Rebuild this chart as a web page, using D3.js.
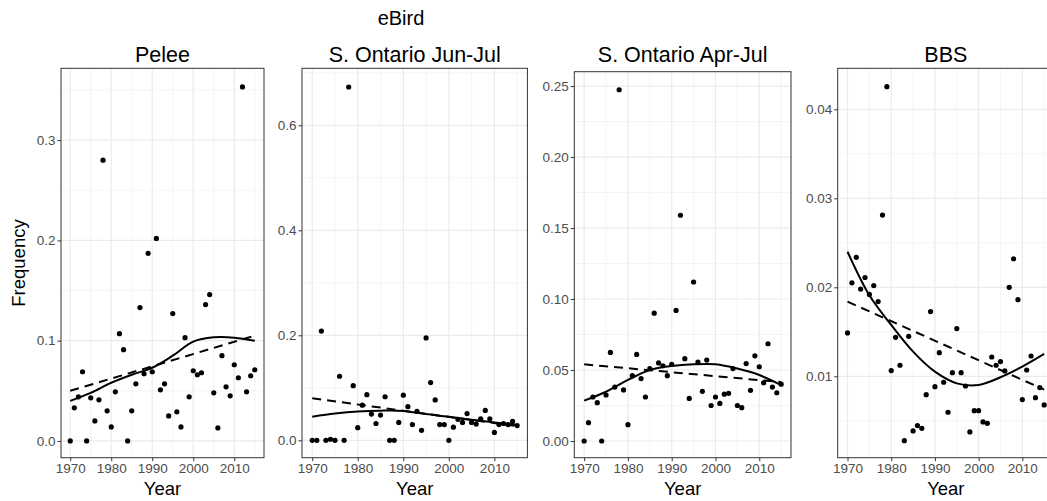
<!DOCTYPE html>
<html>
<head>
<meta charset="utf-8">
<script src="https://cdn.jsdelivr.net/npm/d3@7"></script>
<style>
  body { margin: 0; background: #fff; }
  text { font-family: "Liberation Sans", Arial, Helvetica, sans-serif; }
</style>
</head>
<body>
<script>
const width = 1047;
const height = 501;

// years shared by every panel
const years = [1970, 1971, 1972, 1973, 1974, 1975, 1976, 1977, 1978, 1979,
  1980, 1981, 1982, 1983, 1984, 1985, 1986, 1987, 1988, 1989,
  1990, 1991, 1992, 1993, 1994, 1995, 1996, 1997, 1998, 1999,
  2000, 2001, 2002, 2003, 2004, 2005, 2006, 2007, 2008, 2009,
  2010, 2011, 2012, 2013, 2014, 2015];

const pelee = [0.000, 0.033, 0.044, 0.069, 0.000, 0.043, 0.020, 0.041, 0.280, 0.030,
  0.014, 0.049, 0.107, 0.091, 0.000, 0.030, 0.057, 0.133, 0.067, 0.187,
  0.069, 0.202, 0.051, 0.057, 0.025, 0.127, 0.029, 0.014, 0.103, 0.044,
  0.070, 0.066, 0.068, 0.136, 0.146, 0.048, 0.013, 0.085, 0.054, 0.045,
  0.076, 0.063, 0.353, 0.049, 0.065, 0.071];

const ontJunJul = [0.000, 0.000, 0.208, 0.000, 0.002, 0.000, 0.122, 0.000, 0.673, 0.104,
  0.024, 0.067, 0.087, 0.050, 0.032, 0.048, 0.083, 0.000, 0.000, 0.034,
  0.086, 0.064, 0.030, 0.055, 0.019, 0.195, 0.110, 0.077, 0.030, 0.030,
  0.000, 0.025, 0.040, 0.034, 0.051, 0.034, 0.031, 0.041, 0.057, 0.041,
  0.015, 0.030, 0.032, 0.030, 0.036, 0.028];

const ontAprJul = [0.000, 0.0129, 0.031, 0.027, 0.000, 0.0324, 0.0624, 0.038, 0.2474, 0.036,
  0.0115, 0.046, 0.061, 0.044, 0.031, 0.051, 0.090, 0.055, 0.053, 0.046,
  0.054, 0.092, 0.159, 0.058, 0.030, 0.112, 0.0556, 0.035, 0.057, 0.025,
  0.031, 0.0265, 0.033, 0.0336, 0.051, 0.025, 0.0235, 0.0545, 0.0357, 0.060,
  0.0523, 0.041, 0.0685, 0.038, 0.034, 0.040];

const bbs = [0.01487, 0.0205, 0.02337, 0.0198, 0.0211, 0.0192, 0.0202, 0.0184, 0.02812, 0.04254,
  0.01064, 0.01438, 0.01124, 0.00277, 0.01449, 0.00386, 0.00446, 0.00416, 0.00794, 0.01727,
  0.00884, 0.01266, 0.00933, 0.00596, 0.01041, 0.01536, 0.01041, 0.00891, 0.00375, 0.00614,
  0.00614, 0.00487, 0.00472, 0.01217, 0.01124, 0.01165, 0.0106, 0.0200, 0.02321, 0.01861,
  0.00738, 0.01071, 0.01228, 0.0076, 0.00873, 0.00678];

// smooth (solid) curves
const smoothYears = [1970, 1975, 1980, 1985, 1990, 1995, 2000, 2005, 2010, 2015];
const peleeSmooth = [0.040, 0.048, 0.058, 0.066, 0.073, 0.085, 0.099, 0.1033, 0.103, 0.100];
const ontJunJulSmooth = [0.045, 0.051, 0.055, 0.0565, 0.056, 0.050, 0.045, 0.039, 0.034, 0.029];
const ontAprJulSmooth = [0.0284, 0.0347, 0.043, 0.050, 0.0528, 0.054, 0.054, 0.051, 0.0465, 0.0394];
const bbsSmooth = [0.0240, 0.0191, 0.01577, 0.01277, 0.01052, 0.00921, 0.00903, 0.00989, 0.01109, 0.01251];

// linear (dashed) fits, endpoints
const linearYears = [1970, 2015];
const peleeLinear = [0.050, 0.105];
const ontJunJulLinear = [0.080, 0.027];
const ontAprJulLinear = [0.054, 0.0415];
const bbsLinear = [0.01839, 0.00851];

// tick values
const xTicks = [1970, 1980, 1990, 2000, 2010];
const xMinor = [1975, 1985, 1995, 2005, 2015];
const peleeTicks = [0.0, 0.1, 0.2, 0.3];
const ontJunJulTicks = [0.0, 0.2, 0.4, 0.6];
const ontAprJulTicks = [0.00, 0.05, 0.10, 0.15, 0.20, 0.25];
const bbsTicks = [0.01, 0.02, 0.03, 0.04];

const panels = [
  { title: "Pelee", values: pelee, smooth: peleeSmooth, linear: peleeLinear,
    ticks: peleeTicks, fmt: ".1f", x0: 61, x1: 264, top: 68.3, yDomain: [-0.0167, 0.3716] },
  { title: "S. Ontario Jun-Jul", values: ontJunJul, smooth: ontJunJulSmooth, linear: ontJunJulLinear,
    ticks: ontJunJulTicks, fmt: ".1f", x0: 302, x1: 527.4, top: 68.3, yDomain: [-0.0331, 0.7086] },
  { title: "S. Ontario Apr-Jul", values: ontAprJul, smooth: ontAprJulSmooth, linear: ontAprJulLinear,
    ticks: ontAprJulTicks, fmt: ".2f", x0: 574.3, x1: 791, top: 71.7, yDomain: [-0.01176, 0.2601] },
  { title: "BBS", values: bbs, smooth: bbsSmooth, linear: bbsLinear,
    ticks: bbsTicks, fmt: ".2f", x0: 837.7, x1: 1054, top: 68.3, yDomain: [0.000854, 0.04461] }
];
const bottom = 457.7;

const svg = d3.select("body").append("svg")
  .attr("width", width)
  .attr("height", height);

svg.append("text")
  .attr("x", 401).attr("y", 25)
  .attr("text-anchor", "middle")
  .style("font-size", "20px")
  .attr("fill", "#000")
  .text("eBird");

svg.append("text")
  .attr("transform", "translate(25,263) rotate(-90)")
  .attr("text-anchor", "middle")
  .style("font-size", "18.5px")
  .text("Frequency");

panels.forEach(p => {
  const x = d3.scaleLinear().domain([1967.75, 2017.25]).range([p.x0, p.x1]);
  const y = d3.scaleLinear().domain(p.yDomain).range([bottom, p.top]);
  const g = svg.append("g");

  // minor y grid: halfway between majors
  const step = p.ticks[1] - p.ticks[0];
  const yMinor = [p.ticks[0] - step / 2].concat(p.ticks.map(t => t + step / 2))
    .filter(v => v > p.yDomain[0] && v < p.yDomain[1]);

  g.selectAll(".minx").data(xMinor).join("line")
    .attr("x1", d => x(d)).attr("x2", d => x(d))
    .attr("y1", p.top).attr("y2", bottom)
    .attr("stroke", "#f3f3f3").attr("stroke-width", 0.8);
  g.selectAll(".miny").data(yMinor).join("line")
    .attr("x1", p.x0).attr("x2", p.x1)
    .attr("y1", d => y(d)).attr("y2", d => y(d))
    .attr("stroke", "#f3f3f3").attr("stroke-width", 0.8);
  g.selectAll(".majx").data(xTicks).join("line")
    .attr("x1", d => x(d)).attr("x2", d => x(d))
    .attr("y1", p.top).attr("y2", bottom)
    .attr("stroke", "#ebebeb").attr("stroke-width", 1.2);
  g.selectAll(".majy").data(p.ticks).join("line")
    .attr("x1", p.x0).attr("x2", p.x1)
    .attr("y1", d => y(d)).attr("y2", d => y(d))
    .attr("stroke", "#ebebeb").attr("stroke-width", 1.2);

  // points
  g.selectAll("circle").data(p.values).join("circle")
    .attr("cx", (d, i) => x(years[i]))
    .attr("cy", d => y(d))
    .attr("r", 2.6)
    .attr("fill", "#000");

  // smooth and linear fits
  const smoothLine = d3.line()
    .x((d, i) => x(smoothYears[i]))
    .y(d => y(d))
    .curve(d3.curveCatmullRom);
  g.append("path")
    .attr("d", smoothLine(p.smooth))
    .attr("fill", "none").attr("stroke", "#000").attr("stroke-width", 2);

  const linLine = d3.line()
    .x((d, i) => x(linearYears[i]))
    .y(d => y(d));
  g.append("path")
    .attr("d", linLine(p.linear))
    .attr("fill", "none").attr("stroke", "#000").attr("stroke-width", 2)
    .attr("stroke-dasharray", "9,6");

  // border
  g.append("rect")
    .attr("x", p.x0).attr("y", p.top)
    .attr("width", p.x1 - p.x0).attr("height", bottom - p.top)
    .attr("fill", "none").attr("stroke", "#333").attr("stroke-width", 1);

  // axes
  const xAxis = d3.axisBottom(x).tickValues(xTicks).tickFormat(d3.format("d"))
    .tickSize(3.5).tickPadding(2);
  const xa = g.append("g").attr("transform", `translate(0,${bottom})`).call(xAxis);
  const yAxis = d3.axisLeft(y).tickValues(p.ticks).tickFormat(d3.format(p.fmt))
    .tickSize(3.5).tickPadding(2);
  const ya = g.append("g").attr("transform", `translate(${p.x0},0)`).call(yAxis);
  [xa, ya].forEach(a => {
    a.select(".domain").remove();
    a.selectAll(".tick line").attr("stroke", "#333");
    a.selectAll(".tick text").attr("fill", "#4d4d4d")
      .style("font-size", "13.5px")
      .style("font-family", "'Liberation Sans', Arial, sans-serif");
  });

  // titles
  g.append("text")
    .attr("x", (p.x0 + p.x1) / 2).attr("y", 62)
    .attr("text-anchor", "middle")
    .style("font-size", "21.5px")
    .text(p.title);
  g.append("text")
    .attr("x", (p.x0 + p.x1) / 2).attr("y", 495)
    .attr("text-anchor", "middle")
    .style("font-size", "18.5px")
    .text("Year");
});
</script>
</body>
</html>
